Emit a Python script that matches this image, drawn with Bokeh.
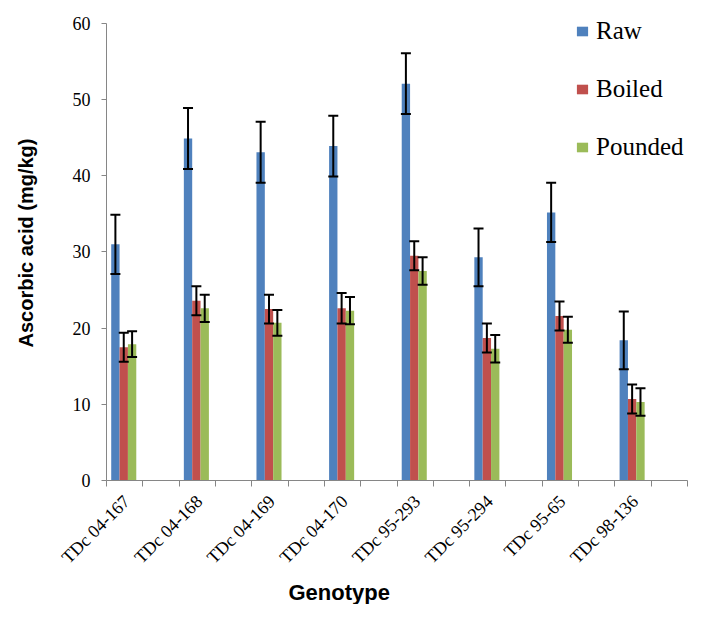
import math
from bokeh.plotting import figure
from bokeh.models import (ColumnDataSource, Range1d, FixedTicker, Whisker, TeeHead,
                          Legend, LegendItem, Title)
from bokeh.embed import file_html
from bokeh.resources import INLINE

genotypes = ["TDc 04-167", "TDc 04-168", "TDc 04-169", "TDc 04-170",
             "TDc 95-293", "TDc 95-294", "TDc 95-65", "TDc 98-136"]
raw = [31.0, 44.9, 43.1, 43.9, 52.1, 29.3, 35.2, 18.4]
raw_err = [3.9, 4.0, 4.0, 4.0, 4.0, 3.8, 3.9, 3.8]
boiled = [17.5, 23.6, 22.5, 22.6, 29.5, 18.7, 21.6, 10.7]
boiled_err = [1.9, 1.9, 1.9, 2.0, 1.9, 1.9, 1.9, 1.9]
pounded = [17.9, 22.6, 20.7, 22.3, 27.5, 17.3, 19.8, 10.3]
pounded_err = [1.7, 1.8, 1.7, 1.8, 1.8, 1.8, 1.7, 1.8]
y_ticks = [0, 10, 20, 30, 40, 50, 60]

series = [("Raw", raw, raw_err, "#4F81BD", -1),
          ("Boiled", boiled, boiled_err, "#C0504D", 0),
          ("Pounded", pounded, pounded_err, "#9BBB59", 1)]

n = len(genotypes)
bar_w = 0.23
centers = [2 * i + 0.475 for i in range(n)]

p = figure(width=688, height=604, output_backend="svg", toolbar_location=None,
           x_range=Range1d(0, 2 * n), y_range=Range1d(0, 62.36),
           min_border_left=106, min_border_right=1, min_border_top=5,
           min_border_bottom=111)
p.outline_line_color = None
p.xgrid.visible = False
p.ygrid.visible = False
p.background_fill_color = "white"

items = []
for name, vals, errs, color, k in series:
    xs = [c + k * bar_w for c in centers]
    src = ColumnDataSource(dict(x=xs, top=vals,
                                upper=[v + e for v, e in zip(vals, errs)],
                                lower=[v - e for v, e in zip(vals, errs)]))
    r = p.vbar(x="x", top="top", width=bar_w, bottom=0, source=src,
               fill_color=color, line_color=None)
    items.append(LegendItem(label=name, renderers=[r]))
    w = Whisker(base="x", upper="upper", lower="lower", source=src,
                line_color="black", line_width=2, level="overlay",
                upper_head=TeeHead(size=10, line_color="black", line_width=2),
                lower_head=TeeHead(size=10, line_color="black", line_width=2))
    p.add_layout(w)

# y axis
ya = p.yaxis[0]
ya.ticker = FixedTicker(ticks=y_ticks, minor_ticks=[])
ya.bounds = (0, 60)
ya.axis_line_color = "#868686"
ya.major_tick_line_color = "#868686"
ya.major_tick_out = 5
ya.major_tick_in = 0
ya.major_label_text_font = "Liberation Serif"
ya.major_label_text_font_size = "18px"
ya.major_label_text_color = "black"
ya.major_label_standoff = 11
ya.axis_label = "Ascorbic acid (mg/kg)"
ya.axis_label_text_font = "Liberation Sans"
ya.axis_label_text_font_style = "bold"
ya.axis_label_text_font_size = "20px"
ya.axis_label_text_color = "black"
ya.axis_label_standoff = 33

# x axis
xa = p.xaxis[0]
xa.ticker = FixedTicker(ticks=[c + 0.08 for c in centers],
                        minor_ticks=list(range(0, 2 * n + 1)))
xa.major_label_overrides = {c + 0.08: g for c, g in zip(centers, genotypes)}
xa.axis_line_color = "#868686"
xa.major_tick_line_color = None
xa.major_tick_out = 6
xa.minor_tick_line_color = "#868686"
xa.minor_tick_out = 6
xa.minor_tick_in = 0
xa.major_label_orientation = math.pi / 4
xa.major_label_text_font = "Liberation Serif"
xa.major_label_text_font_size = "18px"
xa.major_label_text_color = "black"
xa.major_label_standoff = 12

p.add_layout(Title(text="Genotype", align="left", offset=182,
                   text_font="Liberation Sans", text_font_style="bold",
                   text_font_size="22px", text_color="black",
                   standoff=0), "below")

legend = Legend(items=items, location=(469, 319), orientation="vertical",
                label_text_font="Liberation Serif", label_text_font_size="25px",
                label_text_color="black", glyph_width=14, glyph_height=12,
                label_height=26, spacing=30, padding=0, margin=0,
                label_standoff=7, background_fill_alpha=0, border_line_color=None)
p.add_layout(legend, "center")

open("out.html", "w").write(file_html(p, INLINE))
